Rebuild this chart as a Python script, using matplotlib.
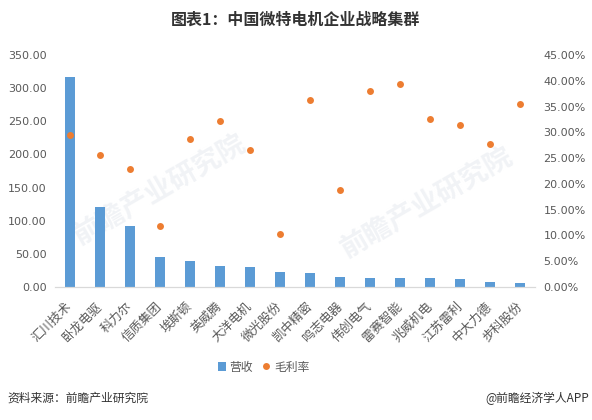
"""
Micro motor companies: revenue (bars, left axis) and gross margin (dots, right axis).
"""

import matplotlib
matplotlib.use("Agg")
import matplotlib.pyplot as plt
from matplotlib.ticker import FuncFormatter, MultipleLocator

plt.rcParams["font.family"] = ["Noto Sans CJK SC", "DejaVu Sans"]

# -----------------------------------------------------------------------------
# Data
# -----------------------------------------------------------------------------

companies = ["汇川技术", "卧龙电驱", "科力尔", "信质集团", "埃斯顿", "英威腾",
             "大洋电机", "微光股份", "凯中精密", "鸣志电器", "伟创电气", "雷赛智能",
             "兆威机电", "江苏雷利", "中大力德", "步科股份"]
revenue = [317.0, 120.6, 91.8, 45.0, 38.9, 31.3, 29.8, 22.2,
           20.7, 14.7, 13.2, 13.2, 13.0, 11.6, 7.1, 5.6]
gross_margin = [0.2945, 0.256, 0.228, 0.1175, 0.287, 0.322, 0.265, 0.102,
                0.363, 0.1875, 0.380, 0.394, 0.326, 0.314, 0.277, 0.355]

BLUE = "#5B9BD5"
ORANGE = "#ED7D31"
GREY = "#595959"

# -----------------------------------------------------------------------------
# Plot
# -----------------------------------------------------------------------------

fig = plt.figure(figsize=(5.92, 4.2), dpi=100)

# faint watermark, behind everything
for wx, wy in [(0.27, 0.55), (0.72, 0.52)]:
    fig.text(wx, wy, "前瞻产业研究院", fontsize=20, color="#F1F3F6",
             rotation=30, ha="center", va="center", fontweight="bold", zorder=-5)

ax = fig.add_axes([0.093, 0.317, 0.811, 0.552])
ax2 = ax.twinx()

x = range(len(companies))
ax.bar(x, revenue, width=0.33, color=BLUE, zorder=2, label="营收")
ax2.plot(x, gross_margin, "o", color=ORANGE, markersize=5,
         markeredgewidth=0, label="毛利率", zorder=3)

ax.set_xlim(-0.5, len(companies) - 0.5)
ax.set_ylim(0, 350)
ax.yaxis.set_major_locator(MultipleLocator(50))
ax.yaxis.set_major_formatter(FuncFormatter(lambda v, _: f"{v:.2f}"))
ax2.set_ylim(0, 0.45)
ax2.yaxis.set_major_locator(MultipleLocator(0.05))
ax2.yaxis.set_major_formatter(FuncFormatter(lambda v, _: f"{v * 100:.2f}%"))

for a in (ax, ax2):
    for side in ("top", "left", "right"):
        a.spines[side].set_visible(False)
    a.spines["bottom"].set_color("#D9D9D9")
    a.tick_params(axis="y", length=0, labelsize=8, labelcolor=GREY, pad=6)
    for lbl in a.get_yticklabels():
        lbl.set_family("DejaVu Sans")

ax.set_xticks(list(x))
ax.set_xticklabels(companies, rotation=45, ha="right", va="center",
                   rotation_mode="anchor", fontsize=9, color=GREY)
ax.tick_params(axis="x", length=0, pad=12.5)

ax.set_zorder(ax2.get_zorder() - 1)
ax.patch.set_visible(False)
ax2.patch.set_visible(False)

# legend
h1, l1 = ax.get_legend_handles_labels()
h2, l2 = ax2.get_legend_handles_labels()
fig.legend(h1 + h2, l1 + l2, loc="center", bbox_to_anchor=(0.445, 0.126),
           ncol=2, frameon=False, fontsize=8.5, labelcolor=GREY,
           handlelength=0.7, handletextpad=0.3, columnspacing=0.8)

fig.text(0.5, 0.954, "图表1：中国微特电机企业战略集群", ha="center", va="center",
         fontsize=11.5, fontweight="bold", color="#333333")
fig.text(0.012, 0.052, "资料来源：前瞻产业研究院", ha="left", va="center",
         fontsize=8.5, color="#333333")
fig.text(0.995, 0.052, "@前瞻经济学人APP", ha="right", va="center",
         fontsize=8.5, color="#333333")

fig.savefig("out.png", dpi=100)
plt.close(fig)
